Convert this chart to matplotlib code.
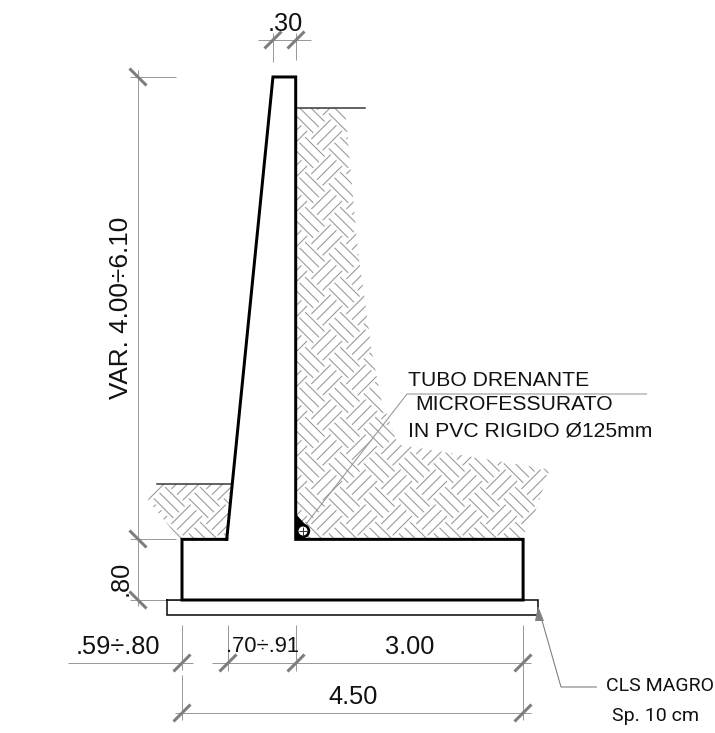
import numpy as np
import matplotlib
matplotlib.use("Agg")
import matplotlib.pyplot as plt
from matplotlib.collections import LineCollection
from matplotlib.patches import Polygon, Circle

# ---- geometry of the section, in metres (origin: bottom-left of the footing)
footing_w = 4.50
footing_h = 0.80
wall_h = 6.10
toe = 0.59
stem_base = 0.91
stem_top = 0.30
heel = 3.00
lean_over = 0.20
lean_h = 0.20
stem_x = [toe, 1.20, 1.50, 1.50, footing_w, footing_w, 0, 0, toe]
stem_y = [footing_h, footing_h + wall_h, footing_h + wall_h, footing_h, footing_h, 0, 0, footing_h, footing_h]
back_x = [1.50, 2.15, 2.32, 2.43, 2.50, 2.63, 2.85, 4.85, 4.61, 4.45, 1.50]
back_y = [6.49, 6.49, 4.62, 3.83, 3.30, 2.64, 2.05, 1.72, 1.02, 0.80, 0.80]
front_x = [-0.33, 0.66, 0.61, -0.03, -0.45]
front_y = [1.53, 1.53, 0.80, 0.80, 1.32]

# ---- texts
dim_top = ".30"
dim_height = "VAR. 4.00÷6.10"
dim_foot = ".80"
dim_toe = ".59÷.80"
dim_stem = ".70÷.91"
dim_heel = "3.00"
dim_total = "4.50"
note_tube = ["TUBO DRENANTE", "MICROFESSURATO", "IN PVC RIGIDO Ø125mm"]
note_lean = ["CLS MAGRO", "Sp. 10 cm"]

SCALE = 75.8          # pixels per metre
X0, Y0 = 182.0, 600.0 # pixel of the origin
W, H = 715, 733
def mx(p): return (p - X0) / SCALE
def my(p): return (Y0 - p) / SCALE

plt.rcParams['font.family'] = ['Liberation Sans', 'DejaVu Sans']
fig = plt.figure(figsize=(W / 100, H / 100), dpi=100)
ax = fig.add_axes([0, 0, 1, 1])
ax.set_xlim(mx(0), mx(W))
ax.set_ylim(my(H), my(0))
ax.axis('off')

GRAY = '#9a9a9a'
TICK = '#7d7d7d'
px = 0.72  # one pixel in points

def seg(pts, color=GRAY, lw=1.0, z=3):
    ax.plot([mx(a) for a, b in pts], [my(b) for a, b in pts], color=color,
            lw=lw * px, solid_capstyle='butt', solid_joinstyle='miter', zorder=z)

def tick(x, y, kind='/'):
    d = 8.5
    s = 1 if kind == '/' else -1
    seg([(x - d, y + s * d), (x + d, y - s * d)], color=TICK, lw=3.0, z=4)

# ---- soil hatch: blocks of three lines, alternating direction
period = 35.0 / SCALE
length = 27.5 / SCALE
gap = 8.0 / SCALE
segs_a = []
n = 24
for i in range(-n, n):
    for j in range(-n, n):
        cx = 1.909 + (i + j) * period / 2
        cy = 5.673 + (i - j) * period / 2
        e = np.array([1, 1]) / np.sqrt(2) if (i + j) % 2 == 0 else np.array([1, -1]) / np.sqrt(2)
        nrm = np.array([-e[1], e[0]])
        for k in (-1, 0, 1):
            c = np.array([cx, cy]) + k * gap * nrm
            segs_a.append([c - e * length / 2, c + e * length / 2])
for xs, ys in ((back_x, back_y), (front_x, front_y)):
    clip = Polygon(np.column_stack([xs, ys]), closed=True, fc='none', ec='none',
                   transform=ax.transData)
    ax.add_patch(clip)
    lc = LineCollection(segs_a, colors=GRAY, linewidths=1.1 * px, zorder=1)
    ax.add_collection(lc)
    lc.set_clip_path(clip)

# ---- lean concrete, footing and stem
ax.plot([-lean_over, footing_w + lean_over, footing_w + lean_over, -lean_over, -lean_over],
        [0, 0, -lean_h, -lean_h, 0], color='#111111', lw=1.6 * px, zorder=4,
        solid_joinstyle='miter')
ax.plot(stem_x, stem_y, color='black', lw=3.0 * px, zorder=5, solid_joinstyle='miter')

# ---- ground lines
ax.plot([1.50, 1.50 + 0.91], [6.49, 6.49], color='#333333', lw=1.5 * px, zorder=4)
ax.plot([-0.33, 0.66], [1.53, 1.53], color='#333333', lw=1.5 * px, zorder=4)

# ---- drain pipe
ax.add_patch(Polygon(np.column_stack([[1.50, 1.50, 1.68, 1.60], [0.80, 1.13, 0.93, 0.80]]),
                     closed=True, fc='black', ec='black', lw=0.5, zorder=6))
ax.add_patch(Circle((mx(303), my(531)), 6.5 / SCALE, fc='black', ec='black', zorder=6))
ax.add_patch(Circle((mx(303), my(531)), 4.5 / SCALE, fc='white', ec='none', zorder=6))
seg([(298.5, 531), (307.5, 531)], color='#333333', lw=1, z=7)
seg([(303, 526.5), (303, 535.5)], color='#333333', lw=1, z=7)

# ---- dimension lines
seg([(258, 40), (311, 40)])
seg([(273, 33), (273, 62)])
seg([(296, 33), (296, 60)])
tick(273, 40)
tick(296, 40)

seg([(138, 70), (138, 606)])
seg([(130, 77), (176, 77)])
seg([(130, 539), (176, 539)])
seg([(130, 600), (182, 600)])
tick(138, 77, '\\')
tick(138, 539, '\\')
tick(138, 600, '\\')

seg([(68, 663), (193, 663)])
seg([(212, 663), (531, 663)])
seg([(175, 713), (531, 713)])
seg([(182, 625), (182, 670)])
seg([(182, 675), (182, 720)])
seg([(228, 625), (228, 671)])
seg([(296, 625), (296, 671)])
seg([(523, 625), (523, 720)])
for x in (182, 228, 296, 523):
    tick(x, 663)
for x in (182, 523):
    tick(x, 713)

# ---- leaders
seg([(300, 532), (407, 394), (647, 394)], lw=1.1)
seg([(539, 610), (561, 687), (597, 687)], color='#808080', lw=1.1)
ax.add_patch(Polygon([(mx(538), my(606)), (mx(535), my(621)), (mx(544), my(621))],
                     closed=True, fc='#808080', ec='none', zorder=4))

# ---- texts
def txt(x, y, s, size, rot=0, ha='center', **kw):
    ax.text(mx(x), my(y), s, fontsize=size, rotation=rot, ha=ha, va='center',
            color='#111111', zorder=8, **kw)

txt(285, 24, dim_top, 18.3)
txt(121, 307.5, dim_height, 18.8, rot=90)
txt(121, 578, dim_foot, 18.3, rot=90)
txt(117.5, 647, dim_toe, 18.3)
txt(262.5, 647, dim_stem, 15.8)
txt(410, 647, dim_heel, 18.3)
txt(353.5, 697, dim_total, 18.3)
txt(408, 380, note_tube[0], 15.2, ha='left')
txt(415, 405, note_tube[1], 15.2, ha='left')
txt(408, 431, note_tube[2], 15.2, ha='left')
txt(606, 686, note_lean[0], 14, ha='left', family=['Roboto', 'DejaVu Sans'])
txt(612, 716, note_lean[1], 14, ha='left', family=['Roboto', 'DejaVu Sans'])

fig.savefig('out.png', dpi=100, facecolor='white')
